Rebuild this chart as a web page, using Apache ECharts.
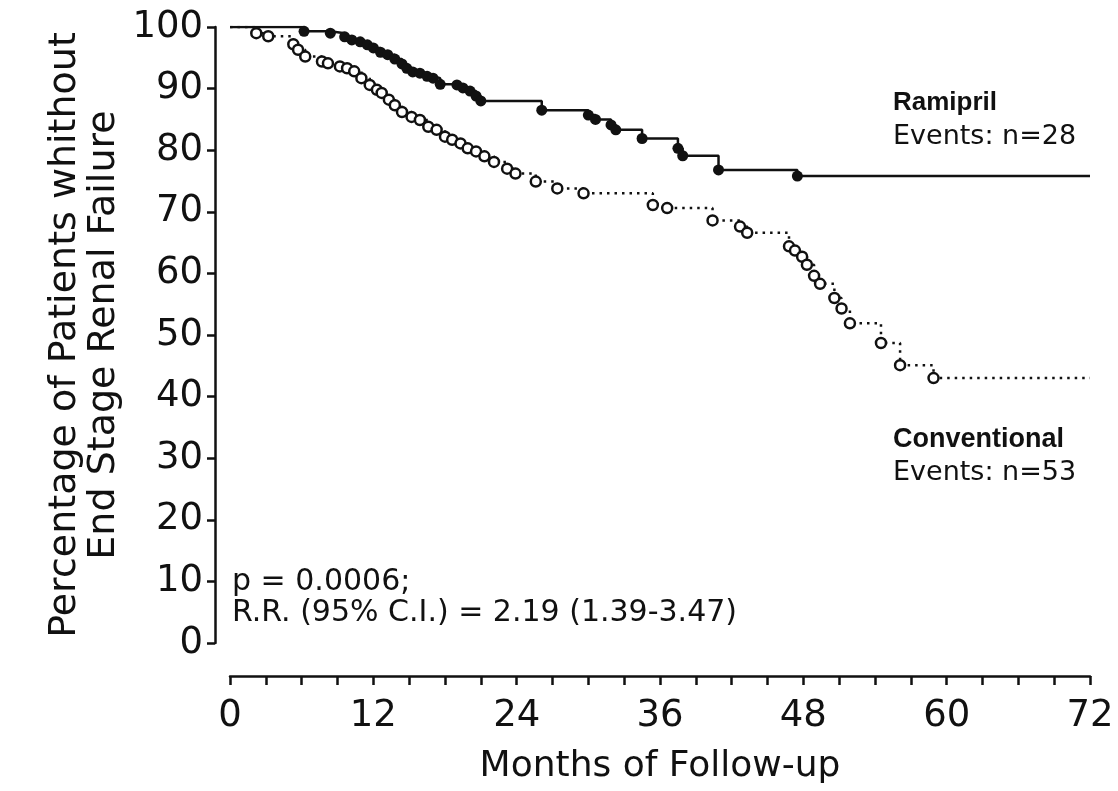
<!DOCTYPE html>
<html>
<head>
<meta charset="utf-8">
<title>End Stage Renal Failure – Kaplan-Meier</title>
<script src="https://cdn.jsdelivr.net/npm/echarts@6/dist/echarts.min.js"></script>
<style>
  html, body { margin: 0; padding: 0; background: #ffffff; }
  #chart { width: 1118px; height: 791px; }
</style>
</head>
<body>
<div id="chart"></div>
<script>
// Kaplan-Meier estimates: event times (months) and percentage without ESRF after each event
const ramiprilMonths = [0, 6.2, 8.4, 9.6, 10.2, 10.9, 11.5, 12.0, 12.6, 13.2, 13.8, 14.4, 14.8, 15.3,
  15.9, 16.5, 17.0, 17.6, 19.0, 19.5, 20.1, 20.6, 21.0, 26.1, 30.0, 30.6, 31.9, 32.3, 34.5,
  37.5, 37.9, 40.9, 47.5, 72];
const ramiprilPct = [100, 99.3, 99.0, 98.4, 97.9, 97.6, 97.1, 96.6, 95.9, 95.5, 94.8, 94.0, 93.3, 92.7,
  92.5, 92.0, 91.7, 90.7, 90.6, 90.1, 89.6, 88.8, 88.0, 86.5, 85.7, 85.0, 84.1, 83.3, 81.9,
  80.3, 79.1, 76.8, 75.8, 75.8];

const conventionalMonths = [0, 2.2, 3.2, 5.3, 5.7, 6.3, 7.7, 8.2, 9.2, 9.8, 10.4, 11.0, 11.7, 12.3,
  12.7, 13.3, 13.8, 14.4, 15.2, 15.9, 16.6, 17.3, 18.0, 18.6, 19.3, 19.9, 20.6, 21.3, 22.1,
  23.2, 23.9, 25.6, 27.4, 29.6, 35.4, 36.6, 40.4, 42.7, 43.3, 46.8, 47.3, 47.9, 48.3, 48.9,
  49.4, 50.6, 51.2, 51.9, 54.5, 56.1, 58.9, 72];
const conventionalPct = [100, 99.0, 98.5, 97.2, 96.3, 95.2, 94.4, 94.1, 93.6, 93.3, 92.8, 91.7, 90.6, 89.8,
  89.3, 88.2, 87.3, 86.2, 85.4, 84.9, 83.8, 83.3, 82.2, 81.7, 81.1, 80.3, 79.8, 79.0, 78.1,
  77.0, 76.2, 74.9, 73.8, 73.0, 71.1, 70.6, 68.6, 67.6, 66.6, 64.4, 63.7, 62.7, 61.4, 59.6,
  58.3, 56.0, 54.3, 51.9, 48.7, 45.1, 43.0, 43.0];

const yTicks = [0, 10, 20, 30, 40, 50, 60, 70, 80, 90, 100];
const xTickLabels = [0, 12, 24, 36, 48, 60, 72];

const INK = '#111111';
const FONT = '"DejaVu Sans", "Open Sans", sans-serif';
const BOLD_FONT = '"Liberation Sans", Arial, sans-serif';

// start and end of follow-up carry no event marker
function kmData(months, pct) {
  return months.map((m, i) => {
    const point = { value: [m, pct[i]] };
    if (i === 0 || i === months.length - 1) point.symbol = 'none';
    return point;
  });
}

const chart = echarts.init(document.getElementById('chart'), null, { renderer: 'canvas' });

chart.setOption({
  backgroundColor: '#ffffff',
  animation: false,
  grid: { left: 230, right: 28, top: 27, bottom: 148, containLabel: false },
  xAxis: {
    type: 'value',
    min: 0,
    max: 72,
    interval: 3,
    offset: 33,
    splitLine: { show: false },
    axisLine: { show: true, onZero: false, lineStyle: { color: INK, width: 2.5 } },
    axisTick: { show: true, inside: false, length: 9, lineStyle: { color: INK, width: 2.5 } },
    axisLabel: {
      color: INK, fontFamily: FONT, fontSize: 37, margin: 22,
      formatter: v => (xTickLabels.indexOf(v) >= 0 ? String(v) : '')
    }
  },
  yAxis: {
    type: 'value',
    min: yTicks[0],
    max: yTicks[yTicks.length - 1],
    interval: 10,
    offset: 15,
    splitLine: { show: false },
    axisLine: { show: true, onZero: false, lineStyle: { color: INK, width: 2.5 } },
    axisTick: { show: true, inside: false, length: 8, lineStyle: { color: INK, width: 2.5 } },
    axisLabel: { color: INK, fontFamily: FONT, fontSize: 37, margin: 12 }
  },
  series: [
    {
      name: 'Ramipril',
      type: 'line',
      step: 'end',
      data: kmData(ramiprilMonths, ramiprilPct),
      symbol: 'circle',
      symbolSize: 11,
      showAllSymbol: true,
      lineStyle: { color: INK, width: 2.5, type: 'solid' },
      itemStyle: { color: INK, borderColor: INK, borderWidth: 0 },
      z: 3
    },
    {
      name: 'Conventional',
      type: 'line',
      step: 'end',
      data: kmData(conventionalMonths, conventionalPct),
      symbol: 'circle',
      symbolSize: 10,
      showAllSymbol: true,
      lineStyle: { color: INK, width: 2.5, type: [2.5, 5] },
      itemStyle: { color: '#ffffff', borderColor: INK, borderWidth: 2.5 },
      z: 2
    }
  ],
  graphic: [
    {
      type: 'text', x: 65, y: 335, rotation: Math.PI / 2,
      style: { text: 'Percentage of Patients whithout', fill: INK, font: '38px ' + FONT,
               textAlign: 'center', textVerticalAlign: 'middle' }
    },
    {
      type: 'text', x: 104, y: 335, rotation: Math.PI / 2,
      style: { text: 'End Stage Renal Failure', fill: INK, font: '38px ' + FONT,
               textAlign: 'center', textVerticalAlign: 'middle' }
    },
    {
      type: 'text', x: 660, y: 767,
      style: { text: 'Months of Follow-up', fill: INK, font: '36px ' + FONT,
               textAlign: 'center', textVerticalAlign: 'middle' }
    },
    {
      type: 'text', x: 893, y: 103,
      style: { text: 'Ramipril', fill: INK, font: 'bold 26px ' + BOLD_FONT, textVerticalAlign: 'middle' }
    },
    {
      type: 'text', x: 893, y: 137,
      style: { text: 'Events: n=28', fill: INK, font: '27px ' + FONT, textVerticalAlign: 'middle' }
    },
    {
      type: 'text', x: 893, y: 440,
      style: { text: 'Conventional', fill: INK, font: 'bold 27px ' + BOLD_FONT, textVerticalAlign: 'middle' }
    },
    {
      type: 'text', x: 893, y: 473,
      style: { text: 'Events: n=53', fill: INK, font: '27px ' + FONT, textVerticalAlign: 'middle' }
    },
    {
      type: 'text', x: 232, y: 582,
      style: { text: 'p = 0.0006;', fill: INK, font: '30px ' + FONT, textVerticalAlign: 'middle' }
    },
    {
      type: 'text', x: 232, y: 613,
      style: { text: 'R.R. (95% C.I.) = 2.19 (1.39-3.47)', fill: INK, font: '30px ' + FONT,
               textVerticalAlign: 'middle' }
    }
  ]
});
</script>
</body>
</html>
